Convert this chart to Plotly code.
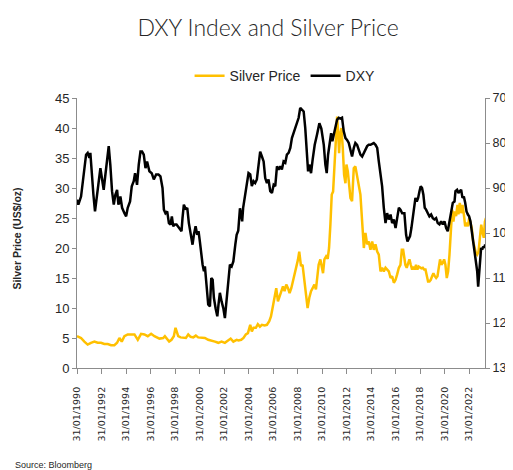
import pandas as pd
import plotly.graph_objects as go

# Positions along the time axis are decimal years
# (1990.0 = the 31/01/1990 tick).
DXY_YEARS = [
    1990.00, 1990.11, 1990.33, 1990.54, 1990.74, 1990.87, 1991.01, 1991.09, 1991.20, 1991.34,
    1991.47, 1991.63, 1991.74, 1991.91, 1992.04, 1992.18, 1992.32, 1992.45, 1992.59, 1992.72,
    1992.86, 1993.00, 1993.13, 1993.27, 1993.38, 1993.54, 1993.68, 1993.87, 1994.01, 1994.14,
    1994.33, 1994.47, 1994.63, 1994.74, 1994.90, 1995.04, 1995.18, 1995.31, 1995.45, 1995.59,
    1995.72, 1995.91, 1996.10, 1996.27, 1996.46, 1996.65, 1996.81, 1996.98, 1997.09, 1997.22,
    1997.36, 1997.50, 1997.63, 1997.74, 1997.85, 1997.99, 1998.12, 1998.23, 1998.40, 1998.53,
    1998.61, 1998.72, 1998.89, 1999.00, 1999.13, 1999.27, 1999.43, 1999.54, 1999.68, 1999.81,
    1999.92, 2000.03, 2000.14, 2000.25, 2000.36, 2000.44, 2000.57, 2000.71, 2000.85, 2000.96,
    2001.07, 2001.17, 2001.31, 2001.45, 2001.56, 2001.66, 2001.80, 2001.94, 2002.07, 2002.21,
    2002.35, 2002.48, 2002.62, 2002.76, 2002.92, 2003.03, 2003.16, 2003.30, 2003.40, 2003.48,
    2003.56, 2003.73, 2003.86, 2004.00, 2004.14, 2004.27, 2004.41, 2004.54, 2004.68, 2004.82,
    2004.95, 2005.09, 2005.23, 2005.36, 2005.50, 2005.63, 2005.77, 2005.91, 2006.05, 2006.18,
    2006.32, 2006.45, 2006.59, 2006.72, 2006.86, 2007.00, 2007.13, 2007.27, 2007.41, 2007.54,
    2007.68, 2007.81, 2007.95, 2008.09, 2008.22, 2008.36, 2008.50, 2008.63, 2008.77, 2008.86,
    2008.96, 2009.10, 2009.23, 2009.40, 2009.59, 2009.78, 2009.94, 2010.14, 2010.27, 2010.38,
    2010.49, 2010.63, 2010.74, 2010.84, 2010.95, 2011.09, 2011.23, 2011.36, 2011.50, 2011.63,
    2011.77, 2011.91, 2012.04, 2012.18, 2012.32, 2012.45, 2012.59, 2012.72, 2012.86, 2013.00,
    2013.13, 2013.27, 2013.41, 2013.54, 2013.68, 2013.81, 2013.95, 2014.09, 2014.22, 2014.36,
    2014.50, 2014.63, 2014.77, 2014.90, 2015.04, 2015.18, 2015.31, 2015.45, 2015.59, 2015.72,
    2015.86, 2016.00, 2016.13, 2016.27, 2016.40, 2016.54, 2016.72, 2016.86, 2016.97, 2017.07,
    2017.18, 2017.29, 2017.40, 2017.51, 2017.62, 2017.73, 2017.84, 2017.95, 2018.05, 2018.16,
    2018.27, 2018.38, 2018.49, 2018.63, 2018.76, 2018.90, 2019.04, 2019.17, 2019.31, 2019.44,
    2019.58, 2019.72, 2019.85, 2019.99, 2020.13, 2020.26, 2020.40, 2020.53, 2020.67, 2020.81,
    2020.89, 2021.02, 2021.13, 2021.24, 2021.35, 2021.46, 2021.57, 2021.68, 2021.79, 2021.90,
    2022.00, 2022.11, 2022.22, 2022.33, 2022.44, 2022.55, 2022.66, 2022.74, 2022.82, 2022.90,
    2022.98, 2023.07, 2023.15, 2023.23, 2023.31, 2023.37,
]
DXY_VALUES = [
    92.6, 93.7, 91.9, 86.7, 82.6, 82.2, 83.3, 82.2, 87.0, 91.5,
    95.2, 91.1, 89.3, 85.6, 87.8, 90.4, 87.0, 83.7, 80.7, 84.8,
    90.7, 93.7, 91.5, 90.4, 93.7, 91.9, 94.4, 95.6, 96.3, 94.4,
    93.0, 89.6, 88.5, 86.7, 89.3, 84.8, 81.9, 81.9, 82.6, 85.6,
    84.1, 86.3, 86.7, 88.1, 87.0, 87.0, 87.4, 90.0, 94.8, 95.6,
    95.2, 97.8, 98.1, 96.3, 98.5, 98.1, 98.1, 98.5, 99.3, 99.6,
    96.7, 93.7, 94.8, 94.4, 97.8, 100.0, 102.6, 100.4, 98.5, 100.4,
    99.6, 101.9, 104.8, 107.0, 108.5, 107.4, 111.5, 115.9, 116.3, 110.0,
    110.4, 114.4, 116.7, 118.5, 115.6, 113.3, 115.2, 116.7, 118.9, 115.2,
    110.4, 107.0, 107.4, 106.3, 102.6, 100.4, 99.5, 94.5, 96.0, 97.4,
    94.4, 91.5, 89.3, 86.7, 87.0, 89.6, 88.5, 88.9, 88.1, 85.2,
    81.9, 83.0, 84.1, 87.8, 88.9, 88.1, 90.7, 91.1, 89.3, 89.6,
    85.2, 85.9, 85.2, 85.9, 84.1, 84.4, 82.6, 82.2, 81.1, 78.9,
    77.8, 76.7, 75.9, 74.4, 72.2, 72.6, 73.0, 76.7, 83.3, 86.3,
    84.8, 86.7, 83.7, 80.4, 78.1, 75.6, 76.8, 80.4, 84.8, 86.7,
    82.6, 80.4, 77.8, 79.6, 78.1, 75.9, 74.8, 74.4, 74.6, 74.4,
    77.4, 78.9, 79.3, 80.0, 81.9, 83.0, 81.1, 80.0, 80.4, 81.5,
    82.6, 83.0, 82.2, 81.5, 80.7, 80.4, 80.4, 80.2, 80.0, 80.4,
    81.1, 84.1, 87.4, 89.6, 94.4, 97.8, 95.6, 97.0, 95.9, 97.8,
    97.0, 98.9, 96.7, 94.4, 94.8, 95.6, 95.6, 100.4, 101.9, 101.1,
    100.7, 98.9, 96.7, 94.1, 92.2, 93.0, 92.2, 90.7, 89.6, 90.0,
    91.5, 94.4, 94.8, 95.6, 96.3, 95.9, 96.7, 97.0, 96.7, 97.8,
    98.1, 97.4, 98.1, 97.4, 98.9, 99.6, 97.4, 94.8, 93.3, 93.0,
    90.7, 90.4, 91.1, 90.7, 90.4, 92.2, 91.9, 93.3, 95.2, 95.9,
    96.3, 97.4, 99.6, 102.6, 104.8, 107.0, 108.5, 111.9, 109.6, 105.6,
    103.3, 103.7, 103.0, 103.3, 102.6, 103.0,
]

SILVER_YEARS = [
    1990.00, 1990.33, 1990.60, 1990.87, 1991.14, 1991.42, 1991.69, 1991.96, 1992.23, 1992.51,
    1992.78, 1993.05, 1993.27, 1993.46, 1993.65, 1993.87, 1994.14, 1994.41, 1994.69, 1994.96,
    1995.23, 1995.50, 1995.78, 1996.05, 1996.32, 1996.73, 1997.03, 1997.17, 1997.36, 1997.52,
    1997.71, 1997.90, 1998.04, 1998.12, 1998.26, 1998.45, 1998.67, 1998.89, 1999.08, 1999.27,
    1999.49, 1999.70, 1999.89, 2000.17, 2000.44, 2000.71, 2000.98, 2001.26, 2001.53, 2001.80,
    2002.07, 2002.35, 2002.54, 2002.76, 2003.03, 2003.18, 2003.40, 2003.59, 2003.78, 2003.95,
    2004.14, 2004.27, 2004.41, 2004.60, 2004.76, 2004.93, 2005.09, 2005.31, 2005.50, 2005.69,
    2005.83, 2005.96, 2006.13, 2006.26, 2006.40, 2006.53, 2006.67, 2006.81, 2006.94, 2007.08,
    2007.22, 2007.35, 2007.49, 2007.62, 2007.76, 2007.90, 2008.04, 2008.14, 2008.28, 2008.41,
    2008.55, 2008.68, 2008.82, 2008.96, 2009.10, 2009.23, 2009.37, 2009.50, 2009.61, 2009.72,
    2009.86, 2010.00, 2010.08, 2010.19, 2010.33, 2010.46, 2010.57, 2010.68, 2010.79, 2010.90,
    2011.01, 2011.12, 2011.23, 2011.31, 2011.39, 2011.47, 2011.58, 2011.69, 2011.80, 2011.91,
    2011.99, 2012.10, 2012.21, 2012.32, 2012.45, 2012.59, 2012.72, 2012.86, 2013.00, 2013.13,
    2013.27, 2013.41, 2013.54, 2013.68, 2013.81, 2013.95, 2014.09, 2014.22, 2014.36, 2014.50,
    2014.63, 2014.77, 2014.90, 2015.04, 2015.18, 2015.31, 2015.45, 2015.59, 2015.72, 2015.86,
    2016.00, 2016.13, 2016.27, 2016.40, 2016.51, 2016.62, 2016.69, 2016.80, 2016.91, 2017.02,
    2017.13, 2017.24, 2017.35, 2017.46, 2017.56, 2017.67, 2017.78, 2017.89, 2018.00, 2018.11,
    2018.22, 2018.33, 2018.44, 2018.54, 2018.65, 2018.76, 2018.87, 2018.98, 2019.09, 2019.20,
    2019.31, 2019.42, 2019.53, 2019.63, 2019.74, 2019.85, 2019.96, 2020.07, 2020.18, 2020.29,
    2020.40, 2020.51, 2020.62, 2020.72, 2020.83, 2020.94, 2021.05, 2021.13, 2021.24, 2021.35,
    2021.46, 2021.57, 2021.68, 2021.79, 2021.90, 2022.01, 2022.11, 2022.22, 2022.33, 2022.44,
    2022.55, 2022.66, 2022.77, 2022.88, 2022.99, 2023.10, 2023.20, 2023.29, 2023.37,
]
SILVER_VALUES = [
    5.3, 5.0, 4.4, 3.9, 4.2, 4.4, 4.2, 4.2, 4.0, 4.0,
    3.8, 3.8, 4.2, 5.0, 4.4, 5.3, 5.6, 5.6, 5.6, 4.7,
    5.7, 5.6, 5.3, 5.7, 5.3, 4.9, 5.0, 5.3, 4.7, 4.4,
    4.7, 5.3, 6.7, 6.0, 5.3, 5.1, 5.1, 5.0, 5.6, 5.2,
    5.1, 5.4, 5.1, 5.0, 5.0, 4.7, 4.6, 4.4, 4.2, 4.4,
    4.2, 4.7, 4.9, 4.4, 4.7, 4.6, 4.7, 5.0, 5.6, 5.8,
    7.2, 6.1, 6.7, 6.7, 7.3, 6.9, 7.2, 7.1, 7.2, 7.8,
    8.6, 10.0, 11.7, 13.3, 11.1, 11.9, 12.8, 13.6, 12.8, 13.9,
    13.3, 12.5, 13.3, 14.4, 15.6, 17.0, 18.1, 19.4, 17.0, 17.2,
    14.4, 11.7, 10.0, 11.7, 12.8, 13.3, 13.9, 13.1, 15.0, 17.2,
    18.1, 16.7, 15.8, 18.1, 18.6, 18.2, 20.0, 23.9, 28.9, 29.4,
    33.3, 37.8, 41.9, 39.4, 35.8, 38.9, 40.0, 36.7, 32.2, 30.8,
    33.9, 32.8, 30.0, 28.3, 27.8, 33.3, 33.6, 32.2, 30.3, 28.9,
    24.4, 20.0, 22.5, 20.6, 21.1, 19.7, 21.1, 19.7, 20.6, 19.4,
    18.9, 16.1, 16.7, 16.1, 16.7, 16.4, 16.1, 15.0, 15.3, 14.2,
    14.7, 15.6, 16.7, 17.2, 19.7, 19.7, 18.3, 17.2, 16.7, 17.5,
    18.1, 17.2, 16.4, 16.9, 16.4, 17.2, 16.4, 16.9, 16.7, 16.6,
    16.7, 16.4, 16.4, 15.3, 14.4, 14.4, 14.7, 15.3, 15.8, 15.3,
    15.0, 15.3, 16.7, 18.1, 17.2, 17.5, 18.1, 17.2, 15.0, 16.1,
    18.9, 23.9, 26.4, 24.4, 26.1, 25.3, 27.2, 25.6, 27.5, 25.8,
    27.2, 25.6, 23.6, 24.2, 23.6, 25.0, 24.2, 23.3, 21.1, 20.0,
    19.2, 18.9, 19.4, 21.7, 23.9, 22.5, 21.7, 24.4, 25.0,
]

TICK_YEARS = list(range(1990, 2023, 2))
SILVER_TICKS = [0, 5, 10, 15, 20, 25, 30, 35, 40, 45]
DXY_TICKS = [70, 80, 90, 100, 110, 120, 130]

AXIS_GREY = "#8c8c8c"
GOLD = "#ffc000"
TEXT = "#262626"


def to_dates(years):
    # decimal year -> timestamp, with 1990.0 sitting on 31/01/1990
    return [pd.Timestamp(f"{int(y)}-01-31") + pd.to_timedelta((y - int(y)) * 365.25, unit="D") for y in years]


tick_dates = [pd.Timestamp(f"{y}-01-31") for y in TICK_YEARS]

fig = go.Figure()
fig.add_trace(
    go.Scatter(
        x=to_dates(SILVER_YEARS),
        y=SILVER_VALUES,
        mode="lines",
        name="Silver Price",
        line=dict(color=GOLD, width=2.5),
    )
)
fig.add_trace(
    go.Scatter(
        x=to_dates(DXY_YEARS),
        y=DXY_VALUES,
        mode="lines",
        name="DXY",
        yaxis="y2",
        line=dict(color="black", width=2.5),
    )
)

axis_style = dict(
    ticks="outside",
    ticklen=4,
    tickcolor=AXIS_GREY,
    showline=True,
    linecolor=AXIS_GREY,
    linewidth=1,
    showgrid=False,
    zeroline=False,
    automargin=False,
)

# the page body adds an 8px margin, so the figure is 8px smaller than the window
fig.update_layout(
    width=505,
    height=462,
    paper_bgcolor="white",
    plot_bgcolor="white",
    margin=dict(l=69, r=28, t=90, b=102),
    font=dict(family="Liberation Sans, Arial, sans-serif", color=TEXT),
    title=dict(
        text="DXY Index and Silver Price",
        x=0.515,
        xref="container",
        xanchor="center",
        y=0.957,
        yref="container",
        yanchor="middle",
        font=dict(family="Lato, sans-serif", weight=300, size=23, color=TEXT),
    ),
    legend=dict(
        orientation="h",
        x=0.51,
        xanchor="center",
        y=1.081,
        yanchor="middle",
        font=dict(size=14, color=TEXT),
        bgcolor="rgba(0,0,0,0)",
        itemwidth=30,
    ),
    showlegend=True,
    xaxis=dict(
        type="date",
        range=[pd.Timestamp("1990-01-31"), pd.Timestamp("2023-05-20")],
        tickvals=tick_dates,
        tickformat="%d/%m/%Y",
        tickangle=-90,
        tickfont=dict(family="DejaVu Sans", size=9.5, color=TEXT),
        ticklabelstandoff=9,
        **{**axis_style, "ticklen": 5},
    ),
    yaxis=dict(
        range=[0, 45],
        tickvals=SILVER_TICKS,
        tickfont=dict(size=13, color=TEXT),
        **axis_style,
    ),
    yaxis2=dict(
        overlaying="y",
        side="right",
        range=[130, 70],
        tickvals=DXY_TICKS,
        tickfont=dict(size=12.5, color=TEXT),
        **axis_style,
    ),
)

# y-axis title, placed by hand so it sits where the original has it
fig.add_annotation(
    text="<b>Silver Price (US$/oz)</b>",
    xref="paper",
    yref="paper",
    x=-0.146,
    y=0.481,
    xanchor="center",
    yanchor="middle",
    textangle=-90,
    showarrow=False,
    font=dict(size=10.5, color=TEXT),
)

fig.add_annotation(
    text="Source: Bloomberg",
    xref="paper",
    yref="paper",
    x=-0.157,
    y=-0.335,
    xanchor="left",
    yanchor="top",
    showarrow=False,
    font=dict(size=9, color=TEXT),
)

fig.write_html("out.html")
